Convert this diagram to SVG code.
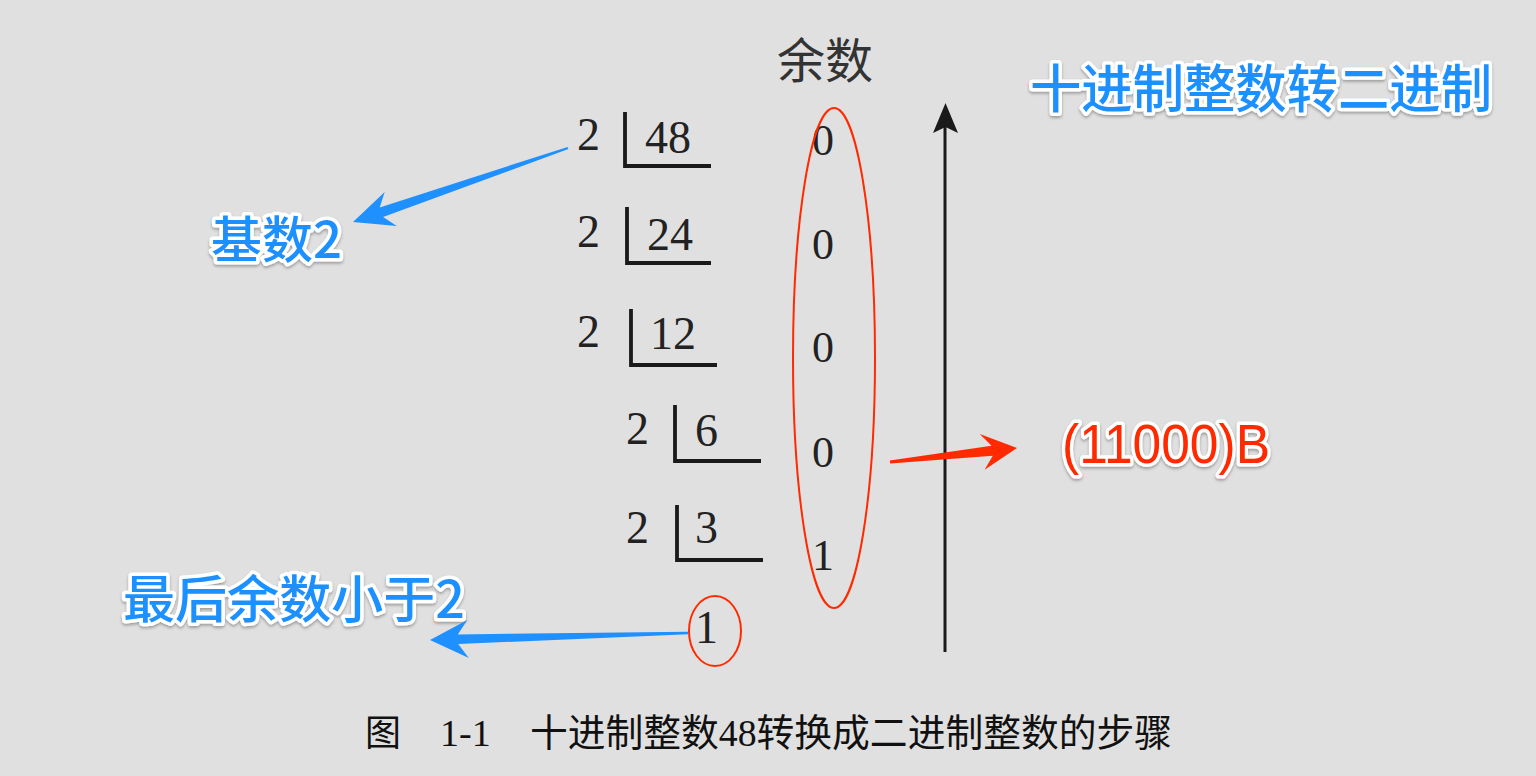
<svg xmlns="http://www.w3.org/2000/svg" width="1536" height="776" viewBox="0 0 1536 776">
<defs>
<style>
.num{font-family:"Liberation Serif","Noto Sans CJK SC",serif;font-size:46px;fill:#222}
.rem{font-family:"Liberation Serif","Noto Sans CJK SC",serif;font-size:44px;fill:#222}
.br{fill:none;stroke:#1a1a1a;stroke-width:3.8}
.lab{font-family:"Noto Sans CJK SC","Liberation Sans",sans-serif;font-weight:500;fill:#1e90ff;stroke:#fff;stroke-width:7;stroke-linejoin:round;paint-order:stroke}
.red{fill:#ff2a00}
.blue{fill:#1e90ff}
.cap{font-family:"Liberation Serif","Noto Sans CJK SC",serif;font-size:38px;fill:#111}
</style>
<filter id="sh" x="-10%" y="-20%" width="120%" height="150%">
<feDropShadow dx="0" dy="2" stdDeviation="1.5" flood-color="#000" flood-opacity="0.3"/>
</filter>
</defs>
<rect width="1536" height="776" fill="#e0e0e0"/>

<g id="header">
<text x="777" y="78" font-family="Noto Sans CJK SC, sans-serif" font-size="48" fill="#333">余数</text>
</g>

<g id="row1">
<text class="num" x="577" y="150">2</text>
<path class="br" d="M625,112 V166 H711"/>
<text class="num" x="645" y="153">48</text>
<text class="rem" x="812" y="155">0</text>
</g>
<g id="row2">
<text class="num" x="577" y="247">2</text>
<path class="br" d="M627,207 V263 H711"/>
<text class="num" x="647" y="250">24</text>
<text class="rem" x="812" y="259">0</text>
</g>
<g id="row3">
<text class="num" x="577" y="347">2</text>
<path class="br" d="M631,309 V365 H717"/>
<text class="num" x="650" y="349">12</text>
<text class="rem" x="812" y="362">0</text>
</g>
<g id="row4">
<text class="num" x="626" y="444">2</text>
<path class="br" d="M675,405 V461 H761"/>
<text class="num" x="695" y="446">6</text>
<text class="rem" x="812" y="467">0</text>
</g>
<g id="row5">
<text class="num" x="626" y="543">2</text>
<path class="br" d="M677,505 V560 H763"/>
<text class="num" x="695" y="543">3</text>
<text class="rem" x="812" y="570">1</text>
</g>
<g id="last">
<text class="num" x="695" y="643">1</text>
<ellipse cx="715" cy="631" rx="26" ry="35" fill="none" stroke="#ff2a00" stroke-width="2"/>
</g>

<g id="remainders-ellipse">
<ellipse cx="834" cy="358" rx="41" ry="250" fill="none" stroke="#ff2a00" stroke-width="2"/>
</g>

<g id="axis">
<line x1="945" y1="652" x2="945" y2="126" stroke="#1a1a1a" stroke-width="3"/>
<polygon points="945.5,103 958,133 945.5,127 933,133" fill="#1a1a1a"/>
</g>

<g id="title">
<text class="lab" x="1030" y="108" font-size="52" filter="url(#sh)" textLength="462" lengthAdjust="spacingAndGlyphs">十进制整数转二进制</text>
</g>
<g id="label-base">
<text class="lab" x="211" y="258" font-size="50" filter="url(#sh)" textLength="131" lengthAdjust="spacingAndGlyphs">基数2</text>
</g>
<g id="label-last">
<text class="lab" x="123" y="618" font-size="51" filter="url(#sh)" textLength="342" lengthAdjust="spacingAndGlyphs">最后余数小于2</text>
</g>
<g id="result">
<text x="1062" y="463" font-family="Liberation Sans, sans-serif" font-size="56" fill="#ff2a00" stroke="#fff" stroke-width="7" stroke-linejoin="round" paint-order="stroke" filter="url(#sh)" textLength="208" lengthAdjust="spacingAndGlyphs">(11000)B</text>
</g>

<g id="connectors">
<polygon class="blue" points="567.6,146.9 379.7,207.4 384.7,191.9 353,222 396.8,226.1 383.1,217.0 568.4,149.1"/>
<polygon class="blue" points="688,631.8 457.8,634.4 467.3,620 430,640 468.8,658 458.2,644.0 688,634.2"/>
<polygon class="red" points="889.8,460.5 991.6,445.7 979.8,433.9 1017,448 984.6,469.7 992.8,455.7 890.2,463.5"/>
</g>

<g id="caption">
<text x="365" y="746" font-family="Noto Sans CJK SC, sans-serif" font-size="36" fill="#111">图</text>
<text class="cap" x="440" y="746">1-1</text>
<text class="cap" x="530" y="746" textLength="642" lengthAdjust="spacingAndGlyphs">十进制整数48转换成二进制整数的步骤</text>
</g>
</svg>
